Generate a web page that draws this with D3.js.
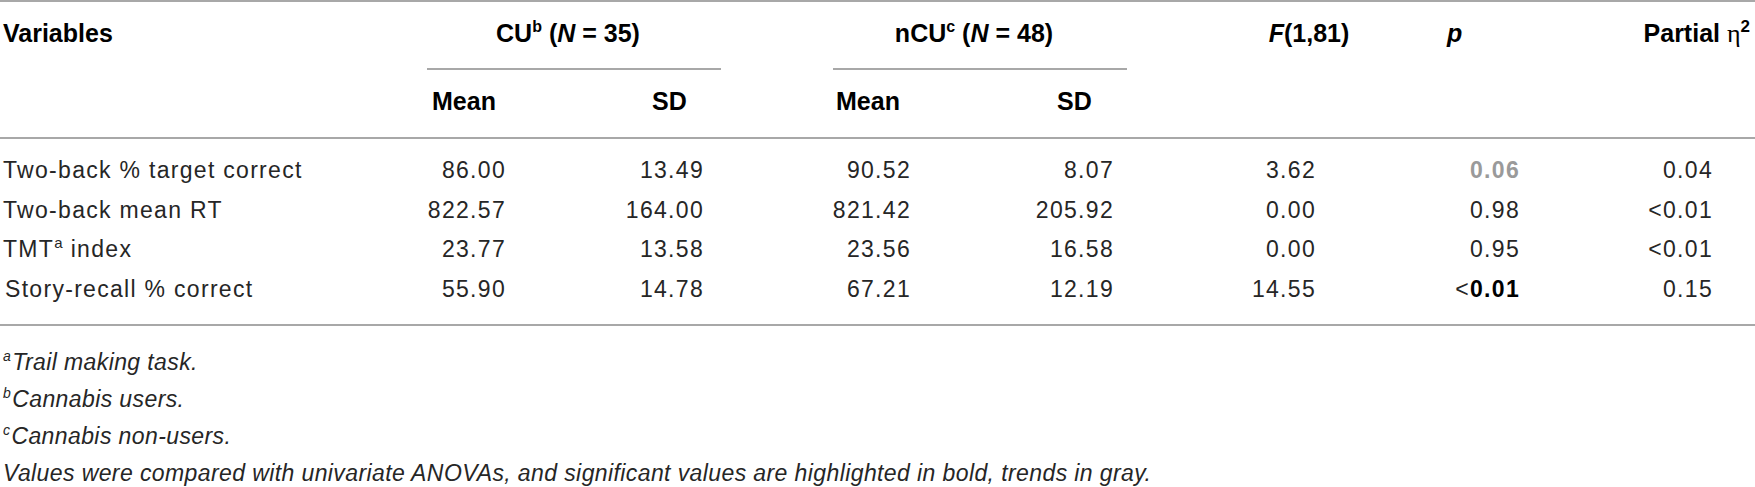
<!DOCTYPE html>
<html>
<head>
<meta charset="utf-8">
<script src="https://cdn.jsdelivr.net/npm/d3@7"></script>
<style>
  body { margin: 0; background: #fff; }
  svg { display: block; }
  .hd { font-family: "Liberation Sans", Arial, sans-serif; font-weight: bold; font-size: 25px; fill: #000; }
  .cell { font-family: "Liberation Sans", Arial, sans-serif; font-size: 23px; letter-spacing: 1.3px; fill: #262626; }
  .note { font-family: "Liberation Sans", Arial, sans-serif; font-style: italic; font-size: 23px; letter-spacing: 0.4px; fill: #262626; }
  .rule { stroke: #a8a8a8; stroke-width: 2; }
</style>
</head>
<body>
<div id="table"></div>
<script>
// table content
const variables = ["Two-back % target correct", "Two-back mean RT", "TMT^a index", "Story-recall % correct"];
const cuMean = [86.00, 822.57, 23.77, 55.90];
const cuSD = [13.49, 164.00, 13.58, 14.78];
const ncuMean = [90.52, 821.42, 23.56, 67.21];
const ncuSD = [8.07, 205.92, 16.58, 12.19];
const fValues = [3.62, 0.00, 0.00, 14.55];
const pValues = ["0.06", "0.98", "0.95", "<0.01"];
const pMarks = ["trend", "", "", "sig"]; // trend = gray bold, sig = bold
const etaValues = ["0.04", "<0.01", "<0.01", "0.15"];

const groupLabels = ["CU", "nCU"];
const groupMarks = ["b", "c"];
const groupN = [35, 48];
const subHeaders = ["Mean", "SD"];

const footMarks = ["a", "b", "c", ""];
const footnotes = [
    "Trail making task.",
    "Cannabis users.",
    "Cannabis non-users.",
    "Values were compared with univariate ANOVAs, and significant values are highlighted in bold, trends in gray."
];

const width = 1755, height = 487;
const fmt = d3.format(".2f");

const svg = d3.select("#table").append("svg")
    .attr("width", width)
    .attr("height", height);

// row baselines and column right edges
const y = d3.scalePoint().domain(d3.range(variables.length)).range([178, 297]);
const colKeys = ["cuMean", "cuSD", "ncuMean", "ncuSD", "F", "p", "eta"];
const x = d3.scaleOrdinal().domain(colKeys).range([506, 704, 911, 1114, 1316, 1520, 1713]);

// horizontal rules
[1, 138, 325].forEach(ry => {
    svg.append("line").attr("class", "rule")
        .attr("x1", 0).attr("x2", width)
        .attr("y1", ry).attr("y2", ry);
});

// group headers with spanner lines
const spans = [[427, 721], [833, 1127]];
const subStarts = [[432, 652], [836, 1057]];
groupLabels.forEach((g, i) => {
    const cx = (spans[i][0] + spans[i][1]) / 2 - 6;
    const t = svg.append("text").attr("class", "hd")
        .attr("x", cx).attr("y", 42).attr("text-anchor", "middle");
    t.append("tspan").text(g);
    t.append("tspan").attr("font-size", 16).attr("dy", -10).text(groupMarks[i]);
    t.append("tspan").attr("dy", 10).text(" (");
    t.append("tspan").attr("font-style", "italic").text("N");
    t.append("tspan").text(" = " + groupN[i] + ")");

    svg.append("line").attr("class", "rule")
        .attr("x1", spans[i][0]).attr("x2", spans[i][1])
        .attr("y1", 69).attr("y2", 69);

    subHeaders.forEach((s, j) => {
        svg.append("text").attr("class", "hd")
            .attr("x", subStarts[i][j]).attr("y", 110)
            .text(s);
    });
});

svg.append("text").attr("class", "hd").attr("x", 3).attr("y", 42).text("Variables");

const fHead = svg.append("text").attr("class", "hd")
    .attr("x", 1309).attr("y", 42).attr("text-anchor", "middle");
fHead.append("tspan").attr("font-style", "italic").text("F");
fHead.append("tspan").text("(1,81)");

svg.append("text").attr("class", "hd")
    .attr("x", 1447).attr("y", 42)
    .attr("font-style", "italic").text("p");

const etaHead = svg.append("text").attr("class", "hd")
    .attr("x", 1750).attr("y", 42).attr("text-anchor", "end");
etaHead.append("tspan").text("Partial ");
etaHead.append("tspan").attr("font-family", "'Liberation Serif', serif")
    .attr("font-weight", "normal").attr("font-size", 26).text("\u03b7");
etaHead.append("tspan").attr("font-size", 17).attr("dy", -10).text("2");

// variable labels, "^x" marks a superscript
variables.forEach((v, i) => {
    const t = svg.append("text").attr("class", "cell")
        .attr("x", i === 3 ? 5 : 3).attr("y", y(i));
    const parts = v.split(/\^(\w)/);
    parts.forEach((p, k) => {
        if (k % 2 === 1) {
            t.append("tspan").attr("font-size", 15).attr("dy", -9).attr("letter-spacing", 0.5).text(p);
        } else if (p) {
            t.append("tspan").attr("dy", k > 0 ? 9 : 0).text(p);
        }
    });
});

// numeric columns
const numCols = [["cuMean", cuMean], ["cuSD", cuSD], ["ncuMean", ncuMean], ["ncuSD", ncuSD], ["F", fValues]];
numCols.forEach(([key, vals]) => {
    svg.selectAll("text.c-" + key)
        .data(vals)
        .enter().append("text")
        .attr("class", "cell c-" + key)
        .attr("x", x(key))
        .attr("y", (d, i) => y(i))
        .attr("text-anchor", "end")
        .text(d => fmt(d));
});

// p column with bold / gray highlighting
pValues.forEach((v, i) => {
    const t = svg.append("text").attr("class", "cell")
        .attr("x", x("p")).attr("y", y(i)).attr("text-anchor", "end");
    const lt = v.startsWith("<");
    if (lt) t.append("tspan").text("<");
    const num = t.append("tspan").text(lt ? v.slice(1) : v);
    if (pMarks[i] === "sig") num.attr("font-weight", "bold").attr("fill", "#000");
    if (pMarks[i] === "trend") num.attr("font-weight", "bold").attr("fill", "#9a9a9a");
});

svg.selectAll("text.c-eta")
    .data(etaValues)
    .enter().append("text")
    .attr("class", "cell c-eta")
    .attr("x", x("eta"))
    .attr("y", (d, i) => y(i))
    .attr("text-anchor", "end")
    .text(d => d);

// footnotes
const fy = d3.scalePoint().domain(d3.range(footnotes.length)).range([370, 481]);
footnotes.forEach((f, i) => {
    const t = svg.append("text").attr("class", "note")
        .attr("x", 3).attr("y", fy(i));
    if (footMarks[i]) {
        t.append("tspan").attr("font-size", 14).attr("dy", -9).text(footMarks[i]);
        t.append("tspan").attr("dy", 9).attr("dx", 1).text(f);
    } else {
        t.append("tspan").text(f);
    }
});
</script>
</body>
</html>
